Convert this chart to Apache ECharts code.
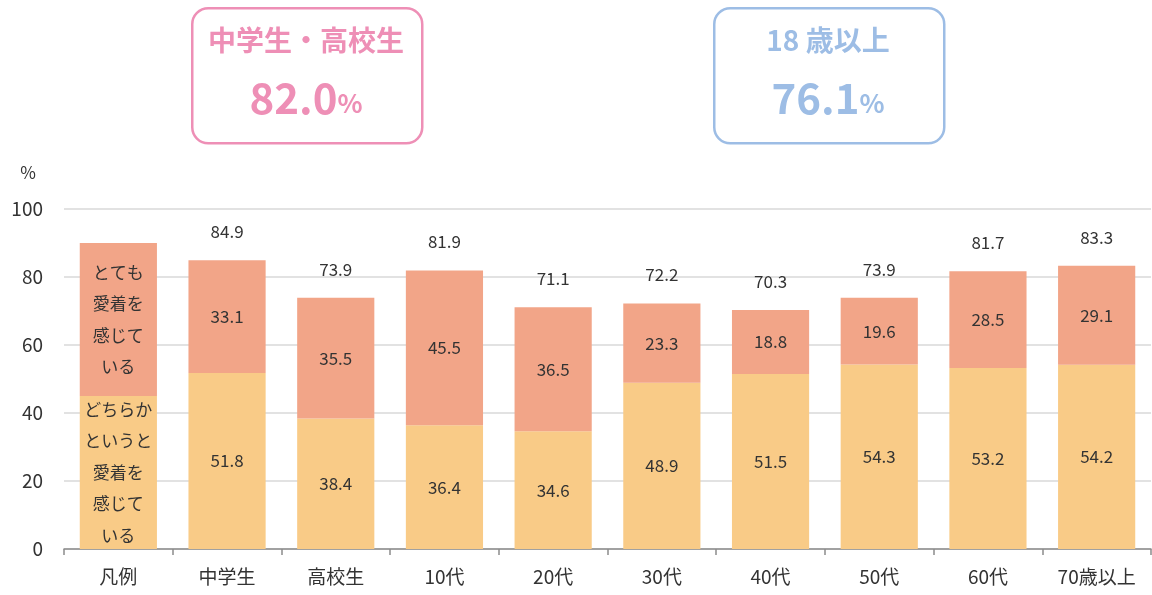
<!DOCTYPE html>
<html>
<head>
<meta charset="utf-8">
<script src="https://cdn.jsdelivr.net/npm/echarts@6/dist/echarts.min.js"></script>
<style>
  html, body { margin: 0; padding: 0; background: #fff; }
  #chart { width: 1152px; height: 595px; }
</style>
</head>
<body>
<div id="chart"></div>
<script>
const categories = ['凡例', '中学生', '高校生', '10代', '20代', '30代', '40代', '50代', '60代', '70歳以上'];
const somewhat = [45, 51.8, 38.4, 36.4, 34.6, 48.9, 51.5, 54.3, 53.2, 54.2];
const very = [45, 33.1, 35.5, 45.5, 36.5, 23.3, 18.8, 19.6, 28.5, 29.1];
const totals = [null, 84.9, 73.9, 81.9, 71.1, 72.2, 70.3, 73.9, 81.7, 83.3];
const yTicks = [0, 20, 40, 60, 80, 100];
const legendVery = 'とても\n愛着を\n感じて\nいる';
const legendSomewhat = 'どちらか\nというと\n愛着を\n感じて\nいる';
const boxes = [
  { title: '中学生・高校生', value: '82.0', color: '#EE8FB6', x: 191 },
  { title: '18 歳以上', value: '76.1', color: '#9DBDE5', x: 713 }
];

const font = '"Noto Sans CJK JP", "Noto Sans", sans-serif';
const chart = echarts.init(document.getElementById('chart'));

const legendLabel = (text) => (p) => (p.dataIndex === 0 ? text : p.value.toFixed(1));

const graphics = [];
boxes.forEach(b => {
  graphics.push({
    type: 'rect',
    left: b.x, top: 7,
    shape: { width: 230, height: 135, r: 16 },
    style: { fill: '#fff', stroke: b.color, lineWidth: 2.5 }
  });
  graphics.push({
    type: 'text',
    x: b.x + 115, y: 40,
    style: {
      text: b.title, fill: b.color, font: 'bold 28px ' + font,
      textAlign: 'center', textVerticalAlign: 'middle'
    }
  });
  graphics.push({
    type: 'text',
    x: b.x + 115, y: 98,
    style: {
      text: '{v|' + b.value + '}{p|%}',
      textAlign: 'center', textVerticalAlign: 'middle',
      rich: {
        v: { fill: b.color, fontSize: 42, fontWeight: 'bold', fontFamily: font },
        p: { fill: b.color, fontSize: 26, fontWeight: 'bold', fontFamily: font, padding: [10, 0, 0, 0] }
      }
    }
  });
});

const option = {
  animation: false,
  textStyle: { fontFamily: font },
  grid: { left: 64, right: 1, top: 209, bottom: 46 },
  xAxis: {
    type: 'category',
    data: categories,
    axisLine: { lineStyle: { color: '#8c8c8c', width: 1.5 } },
    axisTick: { show: true, length: 6, lineStyle: { color: '#8c8c8c', width: 1.5 } },
    axisLabel: { color: '#333', fontSize: 19, margin: 18 }
  },
  yAxis: {
    type: 'value',
    min: 0, max: 100, interval: 20,
    name: '%',
    nameLocation: 'end',
    nameGap: 28,
    nameTextStyle: { color: '#333', fontSize: 17, align: 'right', padding: [0, 28, 0, 0] },
    axisLine: { show: false },
    axisTick: { show: false },
    axisLabel: { color: '#333', fontSize: 19, margin: 21, formatter: v => yTicks.includes(v) ? String(v) : '' },
    splitLine: { lineStyle: { color: '#d9d9d9', width: 1.5 } }
  },
  series: [
    {
      name: 'どちらかというと愛着を感じている',
      type: 'bar',
      stack: 'a',
      data: somewhat,
      barWidth: '71%',
      itemStyle: { color: '#F9CB87' },
      label: {
        show: true, position: 'inside', color: '#333', fontSize: 17, lineHeight: 31.5,
        formatter: legendLabel(legendSomewhat)
      }
    },
    {
      name: 'とても愛着を感じている',
      type: 'bar',
      stack: 'a',
      data: very,
      barWidth: '71%',
      itemStyle: { color: '#F2A588' },
      label: {
        show: true, position: 'inside', color: '#333', fontSize: 17, lineHeight: 31.5,
        formatter: legendLabel(legendVery)
      }
    },
    {
      name: '合計',
      type: 'bar',
      data: totals,
      barWidth: '71%',
      barGap: '-100%',
      z: 1,
      itemStyle: { color: 'rgba(0,0,0,0)' },
      label: {
        show: true, position: 'top', distance: 20, color: '#333', fontSize: 17,
        formatter: p => p.value == null ? '' : p.value.toFixed(1)
      }
    }
  ],
  graphic: graphics
};

chart.setOption(option);
</script>
</body>
</html>
